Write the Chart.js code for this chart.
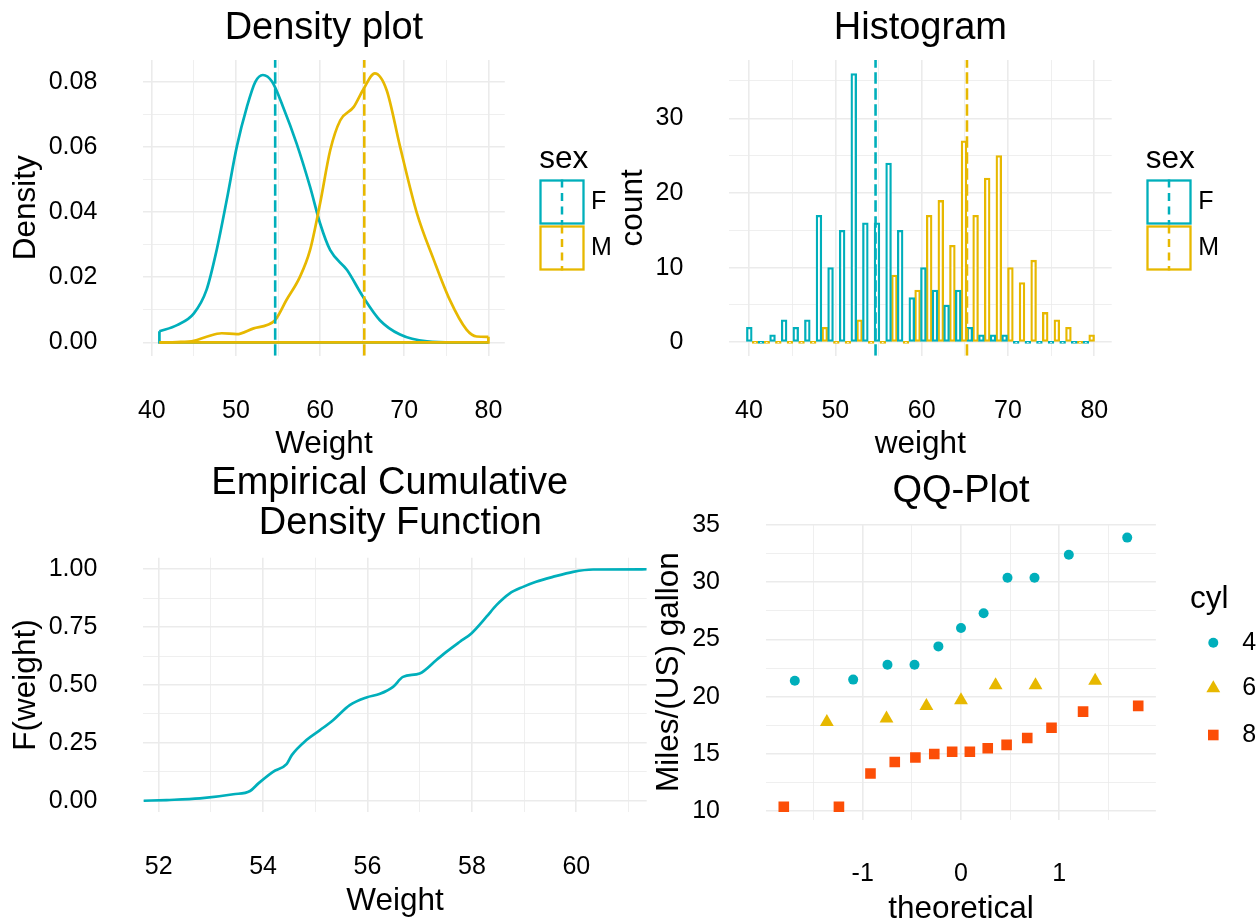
<!DOCTYPE html>
<html>
<head>
<meta charset="utf-8">
<script src="https://cdn.jsdelivr.net/npm/chart.js@4.4.0/dist/chart.umd.min.js"></script>
<style>
html,body{margin:0;padding:0;background:#fff;overflow:hidden;width:1259px;height:919px;}
canvas{position:absolute;}
</style>
</head>
<body>
<canvas id="cA" width="620" height="480" style="left:0;top:0"></canvas>
<canvas id="cB" width="659" height="480" style="left:600px;top:0"></canvas>
<canvas id="cC" width="650" height="480" style="left:0;top:450px"></canvas>
<canvas id="cD" width="619" height="480" style="left:640px;top:450px"></canvas>
<script>
// ---------------- DATA ----------------
const sexLevels = ['F', 'M'];
const sexColors = ['#00AFBB', '#E7B800'];

// Density plot (x = weight, y = density)
const densWeightF = [40.9, 43.0, 45.0, 46.5, 47.7, 48.9, 50.1, 51.3, 52.3, 53.2, 54.3, 55.6, 57.2, 58.8, 60.0, 61.2, 63.2, 65.1, 67.1, 69.5, 72.7, 76.0, 80.0];
const densValueF  = [0.0034, 0.0053, 0.0089, 0.0161, 0.0283, 0.0437, 0.0601, 0.0723, 0.0800, 0.0821, 0.0800, 0.0723, 0.0611, 0.0478, 0.0365, 0.0283, 0.0222, 0.0140, 0.0068, 0.0024, 0.0003, 0.0000, 0.0000];
const densWeightM = [40.9, 43.0, 45.0, 46.5, 48.3, 50.1, 52.1, 53.7, 54.65, 56.0, 57.6, 58.8, 60.0, 61.2, 62.4, 64.0, 65.1, 66.5, 67.9, 69.5, 71.5, 73.5, 75.4, 77.4, 78.6, 80.0];
const densValueM  = [0.0000, 0.0001, 0.0005, 0.0017, 0.0028, 0.0025, 0.0043, 0.0053, 0.0068, 0.0130, 0.0201, 0.0283, 0.0427, 0.0590, 0.0682, 0.0723, 0.0775, 0.0826, 0.0775, 0.0601, 0.0397, 0.0254, 0.0131, 0.0039, 0.0018, 0.0017];
const meanWeight = [54.66, 65.25]; // F, M

// Histogram (30 bins)
const histBinCenters = [40.372, 41.716, 43.061, 44.405, 45.749, 47.094, 48.438, 49.782, 51.126, 52.471, 53.815, 55.159, 56.504, 57.848, 59.192, 60.537, 61.881, 63.225, 64.569, 65.914, 67.258, 68.602, 69.947, 71.291, 72.635, 73.980, 75.324, 76.668, 78.012, 79.357];
const histCountF = [2, 0, 1, 3, 2, 3, 17, 10, 15, 36, 16, 16, 24, 15, 6, 10, 7, 5, 7, 2, 1, 1, 1, 0, 0, 0, 0, 0, 0, 0];
const histCountM = [0, 0, 0, 0, 0, 0, 2, 0, 0, 3, 0, 0, 9, 0, 7, 17, 19, 13, 27, 17, 22, 25, 10, 8, 11, 4, 3, 2, 0, 1];

// ECDF
const ecdfWeight = [51.71, 52.15, 52.79, 53.43, 53.75, 53.91, 54.19, 54.45, 54.55, 54.83, 55.09, 55.34, 55.66, 55.98, 56.24, 56.49, 56.68, 57.00, 57.32, 57.51, 57.77, 57.99, 58.28, 58.47, 58.72, 58.98, 59.23, 59.55, 59.94, 60.32, 61.35];
const ecdfProb   = [0, 0.003, 0.010, 0.028, 0.042, 0.075, 0.125, 0.158, 0.197, 0.262, 0.305, 0.348, 0.413, 0.446, 0.462, 0.492, 0.535, 0.550, 0.608, 0.643, 0.687, 0.723, 0.795, 0.845, 0.895, 0.924, 0.946, 0.967, 0.989, 0.999, 1.0];

// QQ plot (mtcars mpg by cyl)
const cylLevels = ['4', '6', '8'];
const cylColors = ['#00AFBB', '#E7B800', '#FC4E07'];
const cylShapes = ['circle', 'triangle', 'rect'];
const cylRadius = [5, 8, 7.5];
const qqTheo4 = [-1.691, -1.097, -0.748, -0.473, -0.230, 0, 0.230, 0.473, 0.748, 1.097, 1.691];
const qqMpg4  = [21.4, 21.5, 22.8, 22.8, 24.4, 26.0, 27.3, 30.4, 30.4, 32.4, 33.9];
const qqTheo6 = [-1.365, -0.758, -0.352, 0, 0.352, 0.758, 1.365];
const qqMpg6  = [17.8, 18.1, 19.2, 19.7, 21.0, 21.0, 21.4];
const qqTheo8 = [-1.803, -1.242, -0.921, -0.674, -0.464, -0.272, -0.090, 0.090, 0.272, 0.464, 0.674, 0.921, 1.242, 1.803];
const qqMpg8  = [10.4, 10.4, 13.3, 14.3, 14.7, 15.0, 15.2, 15.2, 15.5, 15.8, 16.4, 17.3, 18.7, 19.2];

// Tick labels
const densXMajor = [40, 50, 60, 70, 80], densXMinor = [45, 55, 65, 75];
const densYMajor = [0, 0.02, 0.04, 0.06, 0.08], densYMinor = [0.01, 0.03, 0.05, 0.07];
const histXMajor = [40, 50, 60, 70, 80], histXMinor = [45, 55, 65, 75];
const histYMajor = [0, 10, 20, 30], histYMinor = [5, 15, 25, 35];
const ecdfXMajor = [52, 54, 56, 58, 60], ecdfXMinor = [53, 55, 57, 59, 61];
const ecdfYMajor = [0, 0.25, 0.5, 0.75, 1], ecdfYMinor = [0.125, 0.375, 0.625, 0.875];
const qqXMajor = [-1, 0, 1], qqXMinor = [-1.5, -0.5, 0.5, 1.5];
const qqYMajor = [10, 15, 20, 25, 30, 35], qqYMinor = [12.5, 17.5, 22.5, 27.5, 32.5];

// ---------------- HELPERS ----------------
const FONT = '"Liberation Sans", Arial, Helvetica, sans-serif';
Chart.defaults.font.family = FONT;
Chart.defaults.color = '#000';

const zip = (xs, ys) => xs.map((x, i) => ({x: x, y: ys[i]}));

function makeScale(o) {
  const all = o.majors.concat(o.minors).sort((a, b) => a - b);
  const isY = o.axis === 'y';
  return {
    type: 'linear', min: o.min, max: o.max, offset: false,
    afterBuildTicks: s => { s.ticks = all.map(v => ({value: v})); },
    afterFit: s => {
      if (isY) s.width = o.size; else s.height = o.size;
      s.paddingTop = 0; s.paddingBottom = 0; s.paddingLeft = 0; s.paddingRight = 0;
    },
    border: {display: false},
    grid: {
      display: true, drawTicks: false, offset: false, color: '#EBEBEB',
      lineWidth: c => (c.tick && o.majors.includes(c.tick.value)) ? 1.6 : 0.8
    },
    ticks: {
      autoSkip: false, maxRotation: 0, minRotation: 0, padding: o.tickPad, color: '#000',
      font: {size: 25},
      callback: v => o.majors.includes(v) ? o.fmt(v) : ''
    },
    title: {
      display: true, text: o.title, color: '#000', font: {size: 31.5, lineHeight: 1.2},
      padding: isY ? {top: o.titlePad, bottom: 0} : {top: 0, bottom: o.titlePad}
    }
  };
}

function baseOptions(title, titlePad, rightPad) {
  return {
    responsive: false, animation: false, events: [], devicePixelRatio: 1,
    layout: {padding: {left: 0, top: 0, right: rightPad, bottom: 0}},
    plugins: {
      legend: {display: false},
      tooltip: {enabled: false},
      title: {
        display: true, text: title, fullSize: false, color: '#000',
        font: {size: 38, weight: 'normal', lineHeight: titlePad.lh || 1.2},
        padding: {top: titlePad.top, bottom: titlePad.bottom}
      }
    }
  };
}

function sexLegend(cfg) {
  return {
    id: 'sexLegend',
    afterDraw(chart) {
      const ctx = chart.ctx;
      ctx.save();
      ctx.fillStyle = '#000';
      ctx.font = '31.5px ' + FONT;
      ctx.textAlign = 'left';
      ctx.textBaseline = 'alphabetic';
      ctx.fillText('sex', cfg.titleX, cfg.titleY);
      sexLevels.forEach((lv, i) => {
        const y = cfg.boxY + i * cfg.step;
        ctx.fillStyle = '#fff';
        ctx.fillRect(cfg.boxX, y, cfg.size, cfg.size);
        ctx.setLineDash([]);
        ctx.lineWidth = 2.3;
        ctx.strokeStyle = sexColors[i];
        ctx.strokeRect(cfg.boxX, y, cfg.size, cfg.size);
        ctx.setLineDash([8, 5.5]);
        ctx.lineWidth = 2.5;
        ctx.beginPath();
        ctx.moveTo(cfg.boxX + cfg.size / 2, y - 1);
        ctx.lineTo(cfg.boxX + cfg.size / 2, y + cfg.size + 1);
        ctx.stroke();
        ctx.setLineDash([]);
        ctx.fillStyle = '#000';
        ctx.font = '25px ' + FONT;
        ctx.textBaseline = 'middle';
        ctx.fillText(lv, cfg.labelX, y + cfg.size / 2);
        ctx.textBaseline = 'alphabetic';
        ctx.font = '31.5px ' + FONT;
      });
      ctx.restore();
    }
  };
}

function vline(x, y0, y1, color) {
  return {
    type: 'line', data: [{x: x, y: y0}, {x: x, y: y1}], borderColor: color, borderWidth: 2.6,
    borderDash: [11.5, 4.5], pointRadius: 0, fill: false, tension: 0, order: 1
  };
}

// ---------------- CHART A: Density ----------------
const dYmin = -0.0041, dYmax = 0.0867;
new Chart(document.getElementById('cA'), {
  type: 'scatter',
  data: {
    datasets: [
      {data: zip(densWeightF, densValueF), showLine: true, borderColor: sexColors[0], borderWidth: 2.7, pointRadius: 0, cubicInterpolationMode: 'monotone', order: 3},
      {data: [{x: densWeightF[0], y: densValueF[0]}, {x: densWeightF[0], y: 0}, {x: densWeightF[densWeightF.length - 1], y: 0}, {x: densWeightF[densWeightF.length - 1], y: densValueF[densValueF.length - 1]}], showLine: true, borderColor: sexColors[0], borderWidth: 2.7, pointRadius: 0, tension: 0, order: 3},
      {data: zip(densWeightM, densValueM), showLine: true, borderColor: sexColors[1], borderWidth: 2.7, pointRadius: 0, cubicInterpolationMode: 'monotone', order: 2},
      {data: [{x: densWeightM[0], y: densValueM[0]}, {x: densWeightM[0], y: 0}, {x: densWeightM[densWeightM.length - 1], y: 0}, {x: densWeightM[densWeightM.length - 1], y: densValueM[densValueM.length - 1]}], showLine: true, borderColor: sexColors[1], borderWidth: 2.7, pointRadius: 0, tension: 0, order: 2},
      vline(meanWeight[0], dYmin, dYmax, sexColors[0]),
      vline(meanWeight[1], dYmin, dYmax, sexColors[1])
    ]
  },
  options: Object.assign(baseOptions('Density plot', {top: 5.7, bottom: 8.7}, 115.2), {
    scales: {
      x: makeScale({axis: 'x', min: 38.95, max: 81.95, majors: densXMajor, minors: densXMinor, fmt: v => String(v), size: 124.3, tickPad: 40, title: 'Weight', titlePad: 17.1}),
      y: makeScale({axis: 'y', min: dYmin, max: dYmax, majors: densYMajor, minors: densYMinor, fmt: v => v.toFixed(2), size: 143, tickPad: 45.7, title: 'Density', titlePad: 7.1})
    }
  }),
  plugins: [sexLegend({titleX: 539.3, titleY: 168.3, boxX: 540.5, boxY: 180.5, size: 43, step: 46, labelX: 591})]
});

// ---------------- CHART B: Histogram ----------------
const hYmin = -1.795, hYmax = 37.81;
const barStyle = {backgroundColor: '#fff', borderWidth: 2.3, borderSkipped: false, minBarLength: 2, barPercentage: 1, categoryPercentage: 1};
new Chart(document.getElementById('cB'), {
  type: 'bar',
  data: {
    datasets: [
      Object.assign({type: 'bar', data: zip(histBinCenters, histCountF), borderColor: sexColors[0], order: 2}, barStyle),
      Object.assign({type: 'bar', data: zip(histBinCenters, histCountM), borderColor: sexColors[1], order: 3}, barStyle),
      vline(meanWeight[0], hYmin, hYmax, sexColors[0]),
      vline(meanWeight[1], hYmin, hYmax, sexColors[1])
    ]
  },
  options: Object.assign(baseOptions('Histogram', {top: 5.7, bottom: 8.7}, 147.3), {
    scales: {
      x: makeScale({axis: 'x', min: 37.683, max: 82.016, majors: histXMajor, minors: histXMinor, fmt: v => String(v), size: 124.3, tickPad: 40, title: 'weight', titlePad: 17.1}),
      y: makeScale({axis: 'y', min: hYmin, max: hYmax, majors: histYMajor, minors: histYMinor, fmt: v => String(v), size: 129, tickPad: 45.7, title: 'count', titlePad: 14.4})
    }
  }),
  plugins: [sexLegend({titleX: 545.7, titleY: 168.3, boxX: 547.5, boxY: 180.5, size: 43, step: 46, labelX: 598.3})]
});

// ---------------- CHART C: ECDF ----------------
new Chart(document.getElementById('cC'), {
  type: 'scatter',
  data: {
    datasets: [
      {data: zip(ecdfWeight, ecdfProb), showLine: true, borderColor: sexColors[0], borderWidth: 2.7, pointRadius: 0, cubicInterpolationMode: 'monotone'}
    ]
  },
  options: Object.assign(baseOptions(['Empirical Cumulative ', ' Density Function'], {top: 13.5, bottom: 14.2, lh: 40 / 38}, 3.3), {
    scales: {
      x: makeScale({axis: 'x', min: 51.705, max: 61.349, majors: ecdfXMajor, minors: ecdfXMinor, fmt: v => String(v), size: 117.7, tickPad: 40, title: 'Weight', titlePad: 9.4}),
      y: makeScale({axis: 'y', min: -0.05, max: 1.05, majors: ecdfYMajor, minors: ecdfYMinor, fmt: v => v.toFixed(2), size: 143.3, tickPad: 46, title: 'F(weight)', titlePad: 7})
    }
  })
});

// ---------------- CHART D: QQ plot ----------------
const qqSeries = [[qqTheo4, qqMpg4], [qqTheo6, qqMpg6], [qqTheo8, qqMpg8]];
const cylLegend = {
  id: 'cylLegend',
  afterDraw(chart) {
    const ctx = chart.ctx;
    ctx.save();
    ctx.fillStyle = '#000';
    ctx.font = '31.5px ' + FONT;
    ctx.textAlign = 'left';
    ctx.textBaseline = 'alphabetic';
    ctx.fillText('cyl', 550, 158.3);
    const ys = [192.7, 238.3, 285];
    cylLevels.forEach((lv, i) => {
      ctx.fillStyle = cylColors[i];
      ctx.strokeStyle = cylColors[i];
      Chart.helpers.drawPoint(ctx, {pointStyle: cylShapes[i], radius: cylRadius[i], rotation: 0, borderWidth: 0}, 573.3, ys[i]);
      ctx.fillStyle = '#000';
      ctx.font = '25px ' + FONT;
      ctx.textBaseline = 'middle';
      ctx.fillText(lv, 602.3, ys[i]);
    });
    ctx.restore();
  }
};
new Chart(document.getElementById('cD'), {
  type: 'scatter',
  data: {
    datasets: qqSeries.map((s, i) => ({
      data: zip(s[0], s[1]), pointStyle: cylShapes[i], pointRadius: cylRadius[i],
      backgroundColor: cylColors[i], borderColor: cylColors[i], borderWidth: 0, pointBorderWidth: 0
    }))
  },
  options: Object.assign(baseOptions('QQ-Plot', {top: 19, bottom: 9.5}, 103.1), {
    scales: {
      x: makeScale({axis: 'x', min: -1.983, max: 1.983, majors: qqXMajor, minors: qqXMinor, fmt: v => String(v), size: 109.8, tickPad: 39, title: 'theoretical', titlePad: 1.5}),
      y: makeScale({axis: 'y', min: 9.22, max: 35.08, majors: qqYMajor, minors: qqYMinor, fmt: v => String(v), size: 126.1, tickPad: 46.1, title: 'Miles/(US) gallon', titlePad: 10.4})
    }
  }),
  plugins: [cylLegend]
});
</script>
</body>
</html>
